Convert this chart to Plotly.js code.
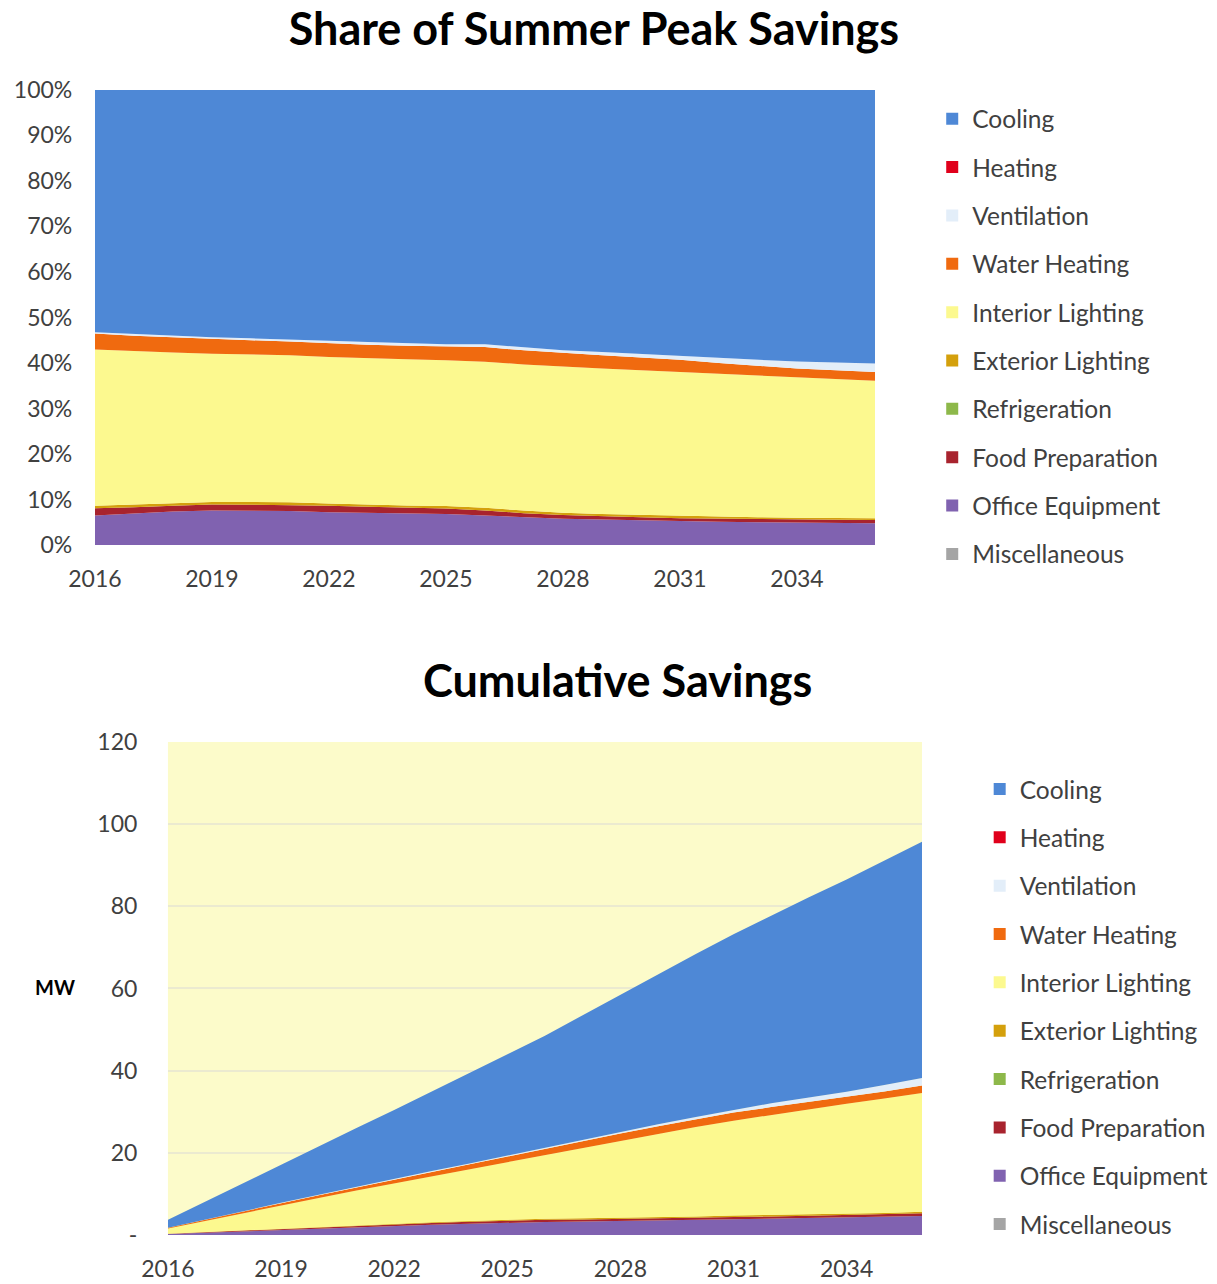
<!DOCTYPE html>
<html>
<head>
<meta charset="utf-8">
<script src="https://cdn.plot.ly/plotly-3.0.1.min.js"></script>
<style>
  html, body { margin: 0; padding: 0; background: #ffffff; }
  #chart { width: 1217px; height: 1284px; }
</style>
</head>
<body>
<div id="chart"></div>
<script>
// ---------------- DATA ----------------
const years = [2016, 2017, 2018, 2019, 2020, 2021, 2022, 2023, 2024, 2025, 2026,
               2027, 2028, 2029, 2030, 2031, 2032, 2033, 2034, 2035, 2036];

const xTickVals = [2016, 2019, 2022, 2025, 2028, 2031, 2034];

// Cumulative summer peak savings by end use (MW)
const miscellaneous    = [0, 0, 0, 0, 0, 0, 0, 0, 0, 0, 0, 0, 0, 0, 0, 0, 0, 0, 0, 0, 0];
const officeEquipment  = [0.24, 0.57, 0.93, 1.30, 1.63, 1.95, 2.19, 2.48, 2.71, 2.98, 3.15,
                          3.26, 3.39, 3.56, 3.69, 3.88, 3.97, 4.11, 4.24, 4.37, 4.59];
const foodPreparation  = [0.06, 0.11, 0.16, 0.22, 0.28, 0.34, 0.43, 0.45, 0.51, 0.53, 0.53,
                          0.48, 0.47, 0.44, 0.48, 0.44, 0.54, 0.58, 0.61, 0.64, 0.67];
const refrigeration    = [0, 0, 0, 0, 0, 0, 0, 0, 0, 0, 0, 0, 0, 0, 0, 0, 0, 0, 0, 0, 0];
const exteriorLighting = [0.02, 0.05, 0.08, 0.10, 0.13, 0.16, 0.15, 0.17, 0.20, 0.26, 0.29,
                          0.32, 0.29, 0.32, 0.34, 0.44, 0.39, 0.33, 0.35, 0.36, 0.38];
const interiorLighting = [1.27, 2.76, 4.16, 5.57, 6.97, 8.40, 9.79, 11.20, 12.62, 14.02, 15.57,
                          17.17, 18.78, 20.32, 21.75, 23.06, 24.35, 25.65, 26.73, 27.85, 28.90];
const waterHeating     = [0.13, 0.28, 0.42, 0.55, 0.67, 0.78, 0.91, 1.05, 1.18, 1.31, 1.55,
                          1.66, 1.76, 1.84, 1.92, 1.98, 1.87, 1.73, 1.64, 1.73, 1.82];
const ventilation      = [0.01, 0.03, 0.05, 0.07, 0.09, 0.13, 0.18, 0.21, 0.20, 0.22, 0.29,
                          0.32, 0.35, 0.44, 0.55, 0.66, 0.93, 1.07, 1.30, 1.55, 1.82];
const heating          = [0, 0, 0, 0, 0, 0, 0, 0, 0, 0, 0, 0, 0, 0, 0, 0, 0, 0, 0, 0, 0];
const cooling          = [1.97, 4.40, 6.80, 9.29, 11.74, 14.25, 16.75, 19.33, 21.89, 24.48, 27.11,
                          30.28, 33.46, 36.58, 39.67, 42.75, 45.75, 48.74, 51.64, 54.51, 57.52];

// stack order bottom -> top
const seriesNames = ["Miscellaneous", "Office Equipment", "Food Preparation", "Refrigeration",
                     "Exterior Lighting", "Interior Lighting", "Water Heating", "Ventilation",
                     "Heating", "Cooling"];
const seriesValues = [miscellaneous, officeEquipment, foodPreparation, refrigeration,
                      exteriorLighting, interiorLighting, waterHeating, ventilation,
                      heating, cooling];
const seriesColors = ["#a5a5a5", "#8062b0", "#a8232e", "#8db84a",
                      "#d4a00c", "#fcf98f", "#f06a0f", "#e3eef9",
                      "#e0001b", "#4e88d6"];

// ---------------- FIGURE ----------------
const FONT = "Lato, 'Open Sans', sans-serif";
const traces = [];

// area traces, top chart (100% stacked)
seriesNames.forEach((name, i) => {
  traces.push({
    x: years, y: seriesValues[i], name: name,
    type: "scatter", mode: "lines", stackgroup: "share", groupnorm: "percent",
    line: { width: 0, color: seriesColors[i] }, fillcolor: seriesColors[i],
    xaxis: "x", yaxis: "y", showlegend: false, hoverinfo: "x+y+name"
  });
});
// area traces, bottom chart (cumulative MW)
seriesNames.forEach((name, i) => {
  traces.push({
    x: years, y: seriesValues[i], name: name,
    type: "scatter", mode: "lines", stackgroup: "mw",
    line: { width: 0, color: seriesColors[i] }, fillcolor: seriesColors[i],
    xaxis: "x2", yaxis: "y2", showlegend: false, hoverinfo: "x+y+name"
  });
});
// legend entries (top of stack first), square swatches
for (let i = seriesNames.length - 1; i >= 0; i--) {
  ["legend", "legend2"].forEach((lg, k) => {
    traces.push({
      x: [null], y: [null], name: seriesNames[i], type: "scatter", mode: "markers",
      marker: { symbol: "square", size: 12, color: seriesColors[i] },
      xaxis: k === 0 ? "x" : "x2", yaxis: k === 0 ? "y" : "y2",
      legend: lg, legendgroup: lg + i, showlegend: true, hoverinfo: "skip"
    });
  });
}

const tickFont = { family: FONT, size: 23, color: "#404040" };
const legendFont = { family: FONT, size: 24.5, color: "#404040" };

const layout = {
  width: 1217, height: 1284,
  margin: { l: 0, r: 0, t: 0, b: 0 },
  paper_bgcolor: "#ffffff",
  plot_bgcolor: "#ffffff",
  showlegend: true,
  title: {
    text: "<b>Share of Summer Peak Savings</b>",
    font: { family: FONT, size: 45, color: "#000000" },
    x: 0.488, xanchor: "center", y: 0.977, yanchor: "middle"
  },
  xaxis: {
    domain: [0.078, 0.719], range: [2016, 2036],
    tickvals: xTickVals, ticks: "outside", ticklen: 13, tickcolor: "rgba(0,0,0,0)",
    tickfont: tickFont, showgrid: false, zeroline: false, showline: false, fixedrange: true
  },
  yaxis: {
    domain: [0.5755, 0.930], range: [0, 100], dtick: 10, ticksuffix: "%",
    ticks: "outside", ticklen: 17, tickcolor: "rgba(0,0,0,0)",
    tickfont: tickFont, showgrid: false, zeroline: false, showline: false, fixedrange: true
  },
  xaxis2: {
    anchor: "y2",
    domain: [0.138, 0.7576], range: [2016, 2036],
    tickvals: xTickVals, ticks: "outside", ticklen: 13, tickcolor: "rgba(0,0,0,0)",
    tickfont: tickFont, showgrid: false, zeroline: false, showline: false, fixedrange: true
  },
  yaxis2: {
    anchor: "x2",
    domain: [0.0382, 0.4221], range: [0, 120],
    tickvals: [0, 20, 40, 60, 80, 100, 120],
    ticktext: ["-", "20", "40", "60", "80", "100", "120"],
    ticks: "outside", ticklen: 25, tickcolor: "rgba(0,0,0,0)",
    tickfont: tickFont, showgrid: true, gridcolor: "#ebead0", gridwidth: 2,
    zeroline: false, showline: false, fixedrange: true
  },
  legend: {
    x: 0.766, xanchor: "left", y: 0.925, yanchor: "top",
    font: legendFont, bgcolor: "rgba(0,0,0,0)",
    traceorder: "grouped", tracegroupgap: 13.5, itemclick: false
  },
  legend2: {
    x: 0.805, xanchor: "left", y: 0.403, yanchor: "top",
    font: legendFont, bgcolor: "rgba(0,0,0,0)",
    traceorder: "grouped", tracegroupgap: 13.5, itemclick: false
  },
  annotations: [
    {
      text: "<b>Cumulative Savings</b>", xref: "paper", yref: "paper",
      x: 0.507, y: 1 - 680 / 1284, xanchor: "center", yanchor: "middle",
      showarrow: false, font: { family: FONT, size: 45, color: "#000000" }
    },
    {
      text: "<b>MW</b>", xref: "paper", yref: "paper",
      x: 55 / 1217, y: 1 - 987 / 1284, xanchor: "center", yanchor: "middle",
      showarrow: false, font: { family: FONT, size: 20, color: "#000000" }
    }
  ],
  shapes: [
    {
      type: "rect", xref: "x2 domain", yref: "y2 domain", layer: "below",
      x0: 0, x1: 1, y0: 0, y1: 1, fillcolor: "#fcfbca", line: { width: 0 }
    }
  ]
};

Plotly.newPlot("chart", traces, layout, { staticPlot: true, displayModeBar: false });
</script>
</body>
</html>
